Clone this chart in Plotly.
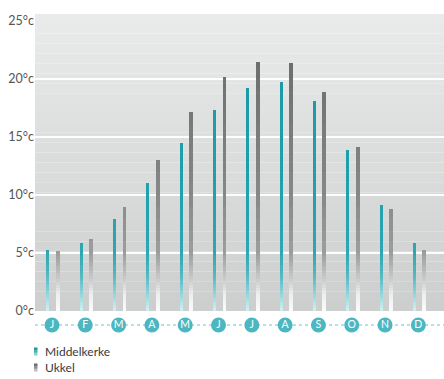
import plotly.graph_objects as go

# Monthly mean temperatures (°C)
months = ["Jan", "Feb", "Mar", "Apr", "May", "Jun",
          "Jul", "Aug", "Sep", "Oct", "Nov", "Dec"]
month_initials = ["J", "F", "M", "A", "M", "J", "J", "A", "S", "O", "N", "D"]
middelkerke = [5.3, 5.9, 7.9, 11.0, 14.5, 17.3, 19.2, 19.7, 18.1, 13.9, 9.1, 5.9]
ukkel = [5.2, 6.2, 9.0, 13.0, 17.1, 20.2, 21.5, 21.4, 18.9, 14.1, 8.8, 5.3]
series_names = ["Middelkerke", "Ukkel"]
y_tick_values = [0, 5, 10, 15, 20, 25]
y_tick_labels = ["0°c", "5°c", "10°c", "15°c", "20°c", "25°c"]

FONT = "Lato"
Y_MAX = 25.6
X_RANGE = [-0.51, 11.77]

# Page geometry (pixels)
W, H = 444, 379
M_L, M_R, M_T, M_B = 35, 0, 14, 40
PLOT_W = W - M_L - M_R
PLOT_H = H - M_T - M_B
ZERO_PX = 311          # pixel row of the 0 °C line
ROW_PX = 325           # pixel row of the month badges


def px_x(px):
    return (px - M_L) / PLOT_W


def px_y(px):
    return (H - M_B - px) / PLOT_H


def hex_rgb(h):
    h = h.lstrip("#")
    return tuple(int(h[i:i + 2], 16) for i in (0, 2, 4))


def ramp(stops, v):
    """Linear colour ramp over (value, hex) stops."""
    if v <= stops[0][0]:
        c = hex_rgb(stops[0][1])
    elif v >= stops[-1][0]:
        c = hex_rgb(stops[-1][1])
    else:
        for (v0, h0), (v1, h1) in zip(stops, stops[1:]):
            if v0 <= v <= v1:
                t = (v - v0) / (v1 - v0)
                a, b = hex_rgb(h0), hex_rgb(h1)
                c = tuple(round(a[i] + (b[i] - a[i]) * t) for i in range(3))
                break
    return "rgb(%d,%d,%d)" % c


teal_ramp = [(0, "#d2eff1"), (1.2, "#9fdbe0"), (3.0, "#55b9c3"),
             (5.0, "#2ea6b2"), (10, "#21a0ad"), (22, "#1b98a5")]
grey_ramp = [(0, "#fbfbfb"), (1.5, "#ededed"), (3.0, "#c4c4c4"),
             (5.0, "#9d9d9d"), (10, "#878787"), (22, "#6c6c6c")]

styles = {
    "Middelkerke": dict(data=middelkerke, ramp=teal_ramp, offset=-0.165, width=0.09),
    "Ukkel": dict(data=ukkel, ramp=grey_ramp, offset=0.12, width=0.115),
}

# Fine steps where the bars fade out near zero, coarser above
edges = [i * 0.25 for i in range(21)] + [float(v) for v in range(6, 24)]

fig = go.Figure()

for name in series_names:
    st = styles[name]
    for lo, hi in zip(edges, edges[1:]):
        heights = [max(0.0, min(v, hi) - lo) for v in st["data"]]
        if not any(heights):
            continue
        fig.add_trace(go.Bar(
            x=months, y=heights, base=lo,
            offset=st["offset"], width=st["width"],
            marker=dict(color=ramp(st["ramp"], (lo + hi) / 2), line=dict(width=0)),
            name=name, showlegend=False, hoverinfo="skip",
            xaxis="x", yaxis="y",
        ))

# Month badges on their own thin row below the chart
row_domain_top = px_y(ZERO_PX + 2)
fig.add_trace(go.Scatter(
    x=months, y=[0] * len(months),
    mode="markers+text", text=month_initials,
    textposition="middle center",
    textfont=dict(family=FONT, size=10.5, color="white"),
    marker=dict(size=15, color="#4db7c1", line=dict(width=0)),
    cliponaxis=False, showlegend=False, hoverinfo="skip",
    xaxis="x", yaxis="y2",
))
row_center = px_y(ROW_PX)
row_half = max(row_center, row_domain_top - row_center)

shapes = []
# Background: soft vertical gradient
n_bands = 30
top_c, bot_c = "#e9ebea", "#cdcfce"
for i in range(n_bands):
    y0 = Y_MAX * i / n_bands
    y1 = Y_MAX * (i + 1) / n_bands
    shapes.append(dict(
        type="rect", xref="x domain", yref="y", x0=0, x1=1, y0=y0, y1=y1,
        fillcolor=ramp([(0, bot_c), (Y_MAX, top_c)], (y0 + y1) / 2),
        line=dict(width=0), layer="below",
    ))
# White grid lines
for v in y_tick_values[1:-1]:
    shapes.append(dict(
        type="line", xref="x domain", yref="y", x0=0, x1=1, y0=v, y1=v,
        line=dict(color="rgba(255,255,255,0.95)", width=2), layer="below",
    ))
# Dotted baseline through the month badges
shapes.append(dict(
    type="line", xref="paper", yref="paper", x0=0, x1=1,
    y0=row_center, y1=row_center,
    line=dict(color="#6cc3cb", width=1, dash="dot"), layer="below",
))

# Legend keys
legend_rows = [("Middelkerke", 351.5, ["#1b98a5", "#3aaeb9", "#86d1d8"]),
               ("Ukkel", 367.5, ["#6c6c6c", "#8c8c8c", "#bdbdbd"])]
annotations = []
for label, yc, cols in legend_rows:
    top = yc - 4
    for k, c in enumerate(cols):
        shapes.append(dict(
            type="rect", xref="paper", yref="paper",
            x0=px_x(34), x1=px_x(37.5),
            y0=px_y(top + (k + 1) * 8 / 3), y1=px_y(top + k * 8 / 3),
            fillcolor=c, line=dict(width=0),
        ))
    annotations.append(dict(
        text=label, xref="paper", yref="paper", x=px_x(43), y=px_y(yc),
        xanchor="left", yanchor="middle", showarrow=False,
        font=dict(family=FONT, size=12, color="#3a3a3a"),
    ))

fig.update_layout(
    width=W, height=H, autosize=False,
    margin=dict(l=M_L, r=M_R, t=M_T, b=M_B),
    paper_bgcolor="white", plot_bgcolor="rgba(0,0,0,0)",
    barmode="overlay", bargap=0,
    shapes=shapes, annotations=annotations,
    showlegend=False,
    xaxis=dict(range=X_RANGE, showticklabels=False, showgrid=False,
               zeroline=False, showline=False, ticks="", anchor="y"),
    yaxis=dict(range=[0, Y_MAX], domain=[px_y(ZERO_PX), 1],
               tickvals=y_tick_values, ticktext=y_tick_labels,
               showgrid=False, zeroline=False, showline=False, ticks="",
               tickfont=dict(family=FONT, size=12.5, color="#555555"),
               anchor="x"),
    yaxis2=dict(range=[-1, 1], domain=[row_center - row_half, row_center + row_half],
                showticklabels=False, showgrid=False, zeroline=False,
                showline=False, ticks="", anchor="x"),
)

fig.write_html("out.html")
